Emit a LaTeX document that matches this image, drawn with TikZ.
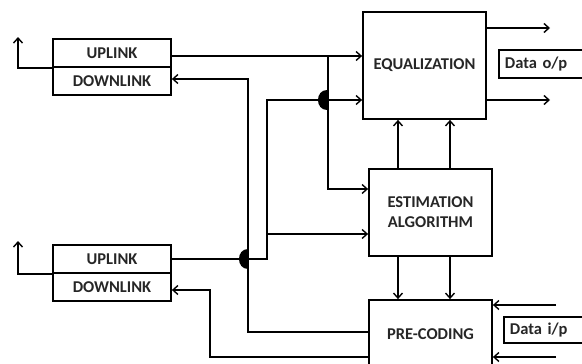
\documentclass[tikz,border=0pt]{standalone}
\usepackage{fontspec}
\setmainfont{Carlito}
\usetikzlibrary{arrows.meta}
\begin{document}
\begin{tikzpicture}[x={(1pt,0)},y={(0,-1pt)},
  line width=1.8pt,
  box/.style={draw,line width=1.8pt,rectangle,inner sep=0pt,text=black!85,font=\bfseries\fontsize{16.5}{20}\selectfont},
  arr/.style={-{Straight Barb[length=5pt,width=9pt,line width=1.4pt]}},
  wire/.style={line width=1.8pt}]
\useasboundingbox (0,0) rectangle (582,364);
\begin{scope}
\clip (0,0) rectangle (582,364);
% main processing blocks
\node[box,minimum width=123,minimum height=107] (eq) at (424.5,65.5) {EQUALIZATION};
\node[box,minimum width=123,minimum height=87,align=center] (est) at (430.5,212.5) {ESTIMATION\\ALGORITHM};
\node[box,minimum width=123,minimum height=68] (pre) at (430.5,334) {PRE-CODING};
% uplink / downlink pairs
\node[box,minimum width=118,minimum height=28] (up1) at (112,53) {UPLINK};
\node[box,minimum width=118,minimum height=28] (dn1) at (112,81) {DOWNLINK};
\node[box,minimum width=118,minimum height=28] (up2) at (112,259) {UPLINK};
\node[box,minimum width=118,minimum height=28] (dn2) at (112,287) {DOWNLINK};
% data labels (running past the right edge)
\node[box,anchor=west,minimum height=28,text width=88,inner xsep=6pt,align=left] (dout) at (498,64) {Data o/p};
\node[box,anchor=west,minimum height=26,text width=84,inner xsep=6pt,align=left] (din) at (503,330) {Data i/p};

% free ends and branch points
\coordinate (o1) at (18,37);
\coordinate (o2) at (18,241);
\coordinate (j1) at (328,56);
\coordinate (j2) at (267,234);
\coordinate (q1) at (550,28);
\coordinate (q2) at (550,100);
\coordinate (p1) at (556,305);
\coordinate (p2) at (556,357);

% uplink 1 into equalization, branch down to estimation
\draw[wire,arr] (up1.east |- j1) -- (eq.west |- j1);
\draw[wire,arr] (j1) |- (est.west |- 0,189);
\draw[wire,arr] (up1.south west) -| (o1);

% uplink 2 up to equalization, branch to estimation
\draw[wire,arr] (up2.east |- 0,259) -| (267,100) -- (eq.west |- 0,100);
\draw[wire,arr] (j2) -- (est.west |- j2);
\draw[wire,arr] (up2.south west) -| (o2);

% pre-coding back to the downlinks
\draw[wire,arr] (pre.west |- 0,332) -| (248,79) -- (dn1.east |- 0,79);
\draw[wire,arr] (pre.west |- 0,357) -| (210,290) -- (dn2.east |- 0,290);

% crossing marks
\fill (327,90) .. controls (315,90) and (315,110) .. (327,110) -- cycle;
\fill (248,249) .. controls (236,249) and (236,269) .. (248,269) -- cycle;

% estimation to equalization and pre-coding
\draw[wire,arr] (est.north -| 398,0) -- (eq.south -| 398,0);
\draw[wire,arr] (est.north -| 450,0) -- (eq.south -| 450,0);
\draw[wire,arr] (est.south -| 398,0) -- (pre.north -| 398,0);
\draw[wire,arr] (est.south -| 450,0) -- (pre.north -| 450,0);

% data out / data in
\draw[wire,arr] (eq.east |- q1) -- (q1);
\draw[wire,arr] (eq.east |- q2) -- (q2);
\draw[wire,arr] (p1) -- (pre.east |- p1);
\draw[wire,arr] (p2) -- (pre.east |- p2);
\end{scope}
\end{tikzpicture}
\end{document}
